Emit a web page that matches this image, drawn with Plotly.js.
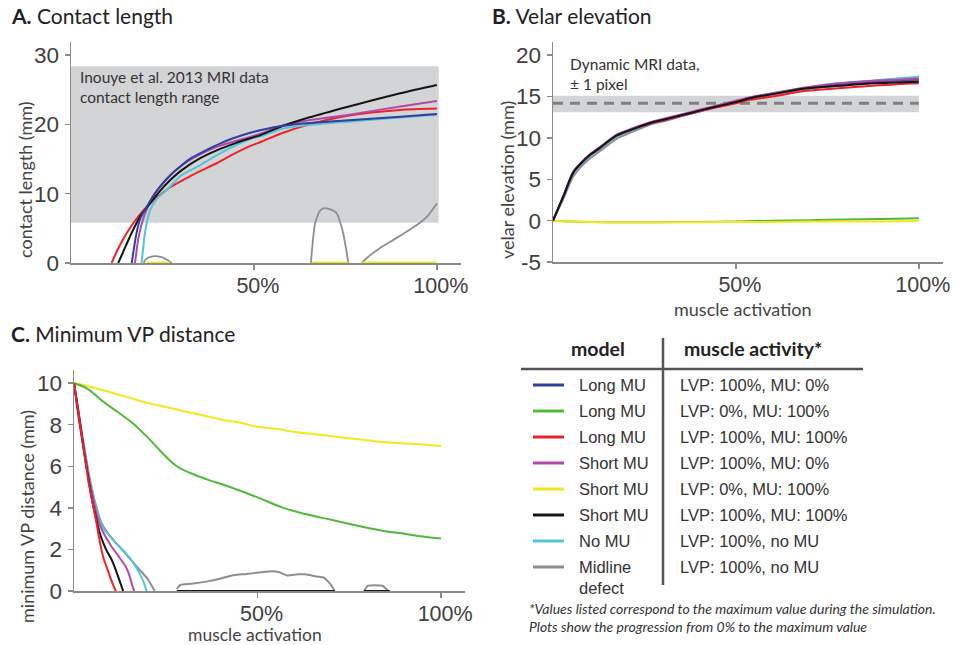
<!DOCTYPE html>
<html><head><meta charset="utf-8">
<script src="https://cdn.plot.ly/plotly-3.0.1.min.js"></script>
<style>html,body{margin:0;padding:0;background:#fff}#chart{width:955px;height:645px}</style>
</head><body><div id="chart"></div>
<script>
// ---------------- DATA ----------------
// Panel A: contact length (mm) vs muscle activation (%)
const aBlueX   = [16.6,17.9,19,20.7,22.5,24.3,27,29.8,33,37,41,44.3,49,52,58,65,76,90,100];
const aBlueY   = [0,4.3,6.5,8.1,9.7,11,12.6,13.9,15.2,16.3,17.3,18.0,18.8,19.2,19.8,20.2,20.6,21.1,21.5];
const aBlackX  = [12.9,14,15.5,17,19,21.6,24,27,30,35.2,40,45,49,52,58,65,76,90,100];
const aBlackY  = [0,1.3,3.1,4.8,6.8,8.6,10.2,11.9,13.3,15.1,16.3,17.3,18.0,18.5,19.8,21.0,22.6,24.5,25.7];
const aRedX    = [11.1,13,15.2,17.5,19.8,22,24.3,27,30.7,35,39.8,44,49,52,58,65,76,90,100];
const aRedY    = [0,2.2,4.3,6.1,7.6,8.8,9.8,10.9,12.0,13.2,14.4,15.6,16.9,17.5,18.8,20.0,21.3,22.1,22.3];
const aPurpleX = [17.5,18.5,20,22,24,27,30,35,40,45,49,52,58,65,76,90,100];
const aPurpleY = [0,3.8,6.8,9.2,10.8,12.6,14.0,15.6,16.8,17.6,18.2,18.7,19.9,20.6,21.4,22.6,23.4];
const aCyanX   = [19.3,19.8,20.2,21.6,23.5,26.1,30,35.2,40,45,49,52,58,65,76,90,100];
const aCyanY   = [0,2.5,4.3,7.6,9.3,10.5,12.6,14.1,15.6,17.0,17.9,18.3,19.4,19.9,20.4,21.0,21.4];
const aGrayX   = [19.9,20.2,21.5,23.4,25,26.5,27.5,null,65.6,65.8,66.7,68,69,70.5,72.6,73.5,74.4,75.2,75.8,null,79.4,81,84,88,92.6,95.4,97.5,100];
const aGrayY   = [0,0.4,0.85,1.0,0.8,0.4,0,null,0,1.5,5.7,7.5,7.9,7.8,7.2,6.0,4.3,2.0,0,null,0,0.8,2.0,3.3,4.8,5.8,6.8,8.6];
const aYellowX = [20.7,27,null,65.8,75.7,null,79.4,100];
const aYellowY = [0,0,null,0,0,null,0,0];
const aRange   = {x0: 0, x1: 100.5, y0: 5.8, y1: 28.4};   // Inouye et al. 2013 range

// Panel B: velar elevation (mm)
const bX       = [0,2.8,5.5,7.8,10,12.8,17.4,22,26.5,31,35.6,40,44.7,50,53.8,60,69.3,78,87.5,94,100];
const bBlackY  = [0,2.9,5.8,7.0,7.9,8.8,10.3,11.1,11.8,12.3,12.8,13.3,13.8,14.35,14.8,15.3,16.0,16.3,16.6,16.7,16.8];
const bRedY    = [0,2.9,5.8,7.0,7.9,8.7,10.2,11.0,11.7,12.2,12.7,13.2,13.7,14.2,14.6,15.0,15.7,16.0,16.3,16.5,16.6];
const bPurpleY = [0,2.9,5.9,7.1,8.0,8.9,10.4,11.2,11.9,12.4,12.9,13.4,13.9,14.5,14.9,15.4,16.1,16.6,16.9,17.05,17.2];
const bBlueY   = [0,2.9,5.8,7.0,7.9,8.8,10.3,11.1,11.8,12.3,12.8,13.3,13.85,14.4,14.85,15.35,16.05,16.5,16.8,16.95,17.1];
const bCyanY   = [0,2.8,5.7,6.9,7.8,8.7,10.2,11.0,11.8,12.3,12.8,13.3,13.9,14.45,14.9,15.4,16.1,16.6,16.95,17.2,17.4];
const bGrayY   = [0,2.6,5.3,6.6,7.5,8.4,9.9,10.8,11.6,12.1,12.7,13.2,13.7,14.3,14.7,15.2,15.9,16.3,16.6,16.8,17.0];
const bLowX    = [0,5,10,20,30,40,50,60,70,80,90,100];
const bGreenY  = [0,-0.1,-0.15,-0.2,-0.2,-0.15,-0.1,0,0.05,0.15,0.2,0.3];
const bYellowY = [0,-0.1,-0.15,-0.2,-0.2,-0.2,-0.15,-0.15,-0.1,-0.1,-0.1,-0.05];
const bBand    = {y0: 13.1, y1: 15.1, mean: 14.2, x1: 100};  // dynamic MRI data ±1 pixel

// Panel C: minimum VP distance (mm)
const cYellowX = [0,5,10,15,20,25,30,35,40,45,50,55,60,65,70,75,80,85,90,95,100];
const cYellowY = [10,9.8,9.55,9.3,9.05,8.85,8.65,8.45,8.25,8.1,7.9,7.8,7.65,7.55,7.45,7.35,7.25,7.15,7.1,7.05,6.97];
const cGreenX  = [0,3,5,8,12,16,20,24,28,32,36,42.5,50,57,63,70.6,77,84,90,95,100];
const cGreenY  = [10,9.8,9.55,9.1,8.6,8.07,7.4,6.65,6.0,5.65,5.38,5.0,4.5,4.0,3.7,3.4,3.15,2.9,2.75,2.62,2.52];
const cRedX    = [0,1,2,3,4,5,6,7,8,9,10,11,11.4];
const cRedY    = [10,8.8,7.6,6.4,5.2,4.3,3.4,2.4,1.6,1.1,0.6,0.15,0];
const cBlackX  = [0,1,2,3,4,5,6,7,8,9,10,11,12,13,13.4,null,28,71,null,79,86];
const cBlackY  = [10,8.8,7.6,6.4,5.3,4.3,3.5,2.8,2.3,1.9,1.6,1.2,0.7,0.2,0,null,0,0,null,0,0];
const cPurpleX = [0,1,2,3,4,5,6,7,8,10,12,14,15,16,16.4];
const cPurpleY = [10,8.9,7.7,6.6,5.5,4.6,3.8,3.2,2.8,2.2,1.7,1.2,0.8,0.2,0];
const cCyanX   = [0,1,2,3,4,5,6,7,8,10,12,14,16,18,19,19.8];
const cCyanY   = [10,8.9,7.8,6.7,5.7,4.8,4.0,3.4,3.0,2.6,2.2,1.85,1.4,0.8,0.4,0];
const cGrayX   = [0,1,2,3,4,5,6,7,8,10,12,14,16,18,20,21,22,null,28,29,32,36,40,43,47,51,54,56,58,61,63,66,68,70,71,null,79,80,84,85.6];
const cGrayY   = [10,8.6,7.5,6.5,5.6,4.8,4.1,3.5,3.1,2.6,2.2,1.8,1.4,1.0,0.6,0.3,0,null,0.1,0.3,0.35,0.45,0.6,0.75,0.82,0.9,0.95,0.9,0.75,0.8,0.8,0.7,0.65,0.3,0,null,0,0.25,0.25,0];

// Axis ticks
const pctTickVals = [50,100];
const pctTickText = ['50%','100%'];
const aTickVals = [0,10,20,30];
const bTickVals = [-5,0,5,10,15,20];
const bTickText = ['-5','0','5','10','15','20'];
const cTickVals = [0,2,4,6,8,10];

// Legend table
const colors = {blue:'#2e3f9e', green:'#52b83a', red:'#ee2129', purple:'#b14aa6', yellow:'#f2e81c', black:'#151515', cyan:'#55c3d8', gray:'#8e8e8e'};
const tableModels   = ['Long MU','Long MU','Long MU','Short MU','Short MU','Short MU','No MU','Midline<br>defect'];
const tableActivity = ['LVP: 100%, MU: 0%','LVP: 0%, MU: 100%','LVP: 100%, MU: 100%','LVP: 100%, MU: 0%','LVP: 0%, MU: 100%','LVP: 100%, MU: 100%','LVP: 100%, no MU','LVP: 100%, no MU'];
const tableColors   = ['blue','green','red','purple','yellow','black','cyan','gray'];

// ---------------- BUILD ----------------
const W = 955, H = 645;
const px = x => x / W, py = y => 1 - y / H;
function tr(x, y, c, xa, ya, w, smooth) {
  const line = {color:colors[c], width:w||2};
  if (smooth) { line.shape = 'spline'; line.smoothing = smooth; }
  return {type:'scatter', mode:'lines', x:x, y:y, xaxis:xa, yaxis:ya, cliponaxis:true,
          line:line, hoverinfo:'skip', showlegend:false};
}
const traces = [
  // A
  tr(aGrayX, aGrayY, 'gray', 'x', 'y', 1.8, 0.6),
  tr(aYellowX, aYellowY, 'yellow', 'x', 'y', 3),
  tr(aRedX, aRedY, 'red', 'x', 'y', 2, 0.7),
  tr(aCyanX, aCyanY, 'cyan', 'x', 'y', 2, 0.7),
  tr(aPurpleX, aPurpleY, 'purple', 'x', 'y', 2, 0.7),
  tr(aBlackX, aBlackY, 'black', 'x', 'y', 2, 0.7),
  tr(aBlueX, aBlueY, 'blue', 'x', 'y', 2, 0.7),
  // B
  tr(bX, bGrayY, 'gray', 'x2', 'y2', 2, 0.8),
  tr(bLowX, bGreenY, 'green', 'x2', 'y2', 2, 0.8),
  tr(bLowX, bYellowY, 'yellow', 'x2', 'y2', 2, 0.8),
  tr(bX, bRedY, 'red', 'x2', 'y2', 2, 0.8),
  tr(bX, bCyanY, 'cyan', 'x2', 'y2', 2, 0.8),
  tr(bX, bBlueY, 'blue', 'x2', 'y2', 2, 0.8),
  tr(bX, bPurpleY, 'purple', 'x2', 'y2', 2, 0.8),
  tr(bX, bBlackY, 'black', 'x2', 'y2', 2, 0.8),
  // C
  tr(cYellowX, cYellowY, 'yellow', 'x3', 'y3', 2, 0.8),
  tr(cGreenX, cGreenY, 'green', 'x3', 'y3', 2, 1.0),
  tr(cGrayX, cGrayY, 'gray', 'x3', 'y3', 2, 0.5),
  tr(cCyanX, cCyanY, 'cyan', 'x3', 'y3', 2, 0.5),
  tr(cPurpleX, cPurpleY, 'purple', 'x3', 'y3', 2, 0.5),
  tr(cBlackX, cBlackY, 'black', 'x3', 'y3', 2, 0.5),
  tr(cRedX, cRedY, 'red', 'x3', 'y3', 2, 0.5)
];

const yTickFont = {family:'Liberation Sans, Arial, sans-serif', size:22.5, color:'#404040'};
const xTickFont = {family:'Liberation Sans, Arial, sans-serif', size:21.5, color:'#404040'};
function xax(dom, anchor) {
  return {domain:dom, anchor:anchor, range:[0,106.6], tickvals:pctTickVals, ticktext:pctTickText,
          ticks:'outside', ticklen:5, tickwidth:1.5, tickcolor:'#8a8a8a', showline:true, linecolor:'#8a8a8a',
          linewidth:1.5, showgrid:false, zeroline:false, tickfont:xTickFont, layer:'below traces', fixedrange:true,
          ticklabelshift:4, ticklabelstandoff:-2};
}
function yax(dom, anchor, range, vals, text) {
  const o = {domain:dom, anchor:anchor, range:range, tickvals:vals, ticks:'outside', ticklen:5, tickwidth:1.5,
          tickcolor:'#8a8a8a', showline:true, linecolor:'#8a8a8a', linewidth:1.5, showgrid:false, zeroline:false,
          tickfont:yTickFont, layer:'below traces', fixedrange:true, ticklabelstandoff:1};
  if (text) o.ticktext = text;
  return o;
}

const textFont = {family:'Lato, Open Sans, sans-serif', color:'#333'};
const annotations = [
  {text:'<b>A.</b> Contact length', x:px(9), y:py(15), xref:'paper', yref:'paper', xanchor:'left', yanchor:'middle', showarrow:false, font:{family:'Lato, sans-serif', size:21, color:'#222'}},
  {text:'<b>B.</b> Velar elevation', x:px(490), y:py(15), xref:'paper', yref:'paper', xanchor:'left', yanchor:'middle', showarrow:false, font:{family:'Lato, sans-serif', size:21, color:'#222'}},
  {text:'<b>C.</b> Minimum VP distance', x:px(9), y:py(333), xref:'paper', yref:'paper', xanchor:'left', yanchor:'middle', showarrow:false, font:{family:'Lato, sans-serif', size:21, color:'#222'}},
  {text:'contact length (mm)', x:px(25), y:py(180), xref:'paper', yref:'paper', textangle:-90, showarrow:false, xanchor:'center', yanchor:'middle', font:{family:'Lato, sans-serif', size:18, color:'#444'}},
  {text:'velar elevation (mm)', x:px(507), y:py(180), xref:'paper', yref:'paper', textangle:-90, showarrow:false, xanchor:'center', yanchor:'middle', font:{family:'Lato, sans-serif', size:18, color:'#444'}},
  {text:'minimum VP distance (mm)', x:px(27), y:py(517), xref:'paper', yref:'paper', textangle:-90, showarrow:false, xanchor:'center', yanchor:'middle', font:{family:'Lato, sans-serif', size:18, color:'#444'}},
  {text:'muscle activation', x:px(742), y:py(309), xref:'paper', yref:'paper', showarrow:false, xanchor:'center', yanchor:'middle', font:{family:'Lato, sans-serif', size:18, color:'#444'}},
  {text:'muscle activation', x:px(255), y:py(634), xref:'paper', yref:'paper', showarrow:false, xanchor:'center', yanchor:'middle', font:{family:'Lato, sans-serif', size:17.5, color:'#444'}},
  {text:'Inouye et al. 2013 MRI data<br>contact length range', x:px(78), y:py(87), xref:'paper', yref:'paper', showarrow:false, xanchor:'left', yanchor:'middle', align:'left', font:Object.assign({size:15.5}, textFont)},
  {text:'Dynamic MRI data,<br>± 1 pixel', x:px(568), y:py(74), xref:'paper', yref:'paper', showarrow:false, xanchor:'left', yanchor:'middle', align:'left', font:Object.assign({size:15.5}, textFont)},
  {text:'<b>model</b>', x:px(598), y:py(348), xref:'paper', yref:'paper', showarrow:false, xanchor:'center', yanchor:'middle', font:{family:'Lato, sans-serif', size:19.5, color:'#222'}},
  {text:'<b>muscle activity*</b>', x:px(682), y:py(348), xref:'paper', yref:'paper', showarrow:false, xanchor:'left', yanchor:'middle', font:{family:'Lato, sans-serif', size:19.5, color:'#222'}},
  {text:'<i>*Values listed correspond to the maximum value during the simulation.<br>Plots show the progression from 0% to the maximum value</i>', x:px(527), y:py(617), xref:'paper', yref:'paper', showarrow:false, xanchor:'left', yanchor:'middle', align:'left', font:{family:'Lato, sans-serif', size:14, color:'#333'}}
];
const shapes = [
  {type:'rect', xref:'x', yref:'y', x0:aRange.x0, x1:aRange.x1, y0:aRange.y0, y1:aRange.y1, fillcolor:'#d3d4d6', line:{width:0}, layer:'below'},
  {type:'rect', xref:'x2', yref:'y2', x0:0, x1:bBand.x1, y0:bBand.y0, y1:bBand.y1, fillcolor:'#d3d4d6', line:{width:0}, layer:'below'},
  {type:'line', xref:'x2', yref:'y2', x0:0, x1:bBand.x1, y0:bBand.mean, y1:bBand.mean, line:{color:'#808080', width:3, dash:'10px,7px'}, layer:'below'},
  {type:'line', xref:'paper', yref:'paper', x0:px(521), x1:px(863), y0:py(369), y1:py(369), line:{color:'#555', width:2.5}},
  {type:'line', xref:'paper', yref:'paper', x0:px(663), x1:px(663), y0:py(338), y1:py(585), line:{color:'#555', width:2.5}}
];
const rowY = [385,411,437,463,489,515,541,567];
tableModels.forEach((m, i) => {
  const y = rowY[i];
  shapes.push({type:'line', xref:'paper', yref:'paper', x0:px(533), x1:px(564), y0:py(y), y1:py(y), line:{color:colors[tableColors[i]], width:3}});
  const two = m.indexOf('<br>') >= 0;
  annotations.push({text:m, x:px(577), y:py(two ? y + 10 : y), xref:'paper', yref:'paper', showarrow:false, xanchor:'left', yanchor:'middle', align:'left',
    font:{family:'Liberation Sans, Arial, sans-serif', size:16.5, color:'#333'}});
  annotations.push({text:tableActivity[i], x:px(678), y:py(y), xref:'paper', yref:'paper', showarrow:false, xanchor:'left', yanchor:'middle',
    font:{family:'Liberation Sans, Arial, sans-serif', size:16.5, color:'#333'}});
});

const layout = {
  width:W, height:H, margin:{l:0, r:0, t:0, b:0}, paper_bgcolor:'#fff', plot_bgcolor:'rgba(0,0,0,0)', showlegend:false,
  xaxis: xax([71/W, 461/W], 'y'),
  yaxis: yax([1-263/H, 1-42/H], 'x', [0,31.9], aTickVals),
  xaxis2: xax([553/W, 943/W], 'y2'),
  yaxis2: yax([1-262/H, 1-42/H], 'x2', [-5,21.6], bTickVals, bTickText),
  xaxis3: Object.assign(xax([74/W, 465/W], 'y3'), {range:[0,106.5]}),
  yaxis3: yax([1-591/H, 1-370/H], 'x3', [0,10.63], cTickVals),
  annotations: annotations, shapes: shapes
};
Plotly.newPlot('chart', traces, layout, {displayModeBar:false, staticPlot:true});
</script></body></html>
